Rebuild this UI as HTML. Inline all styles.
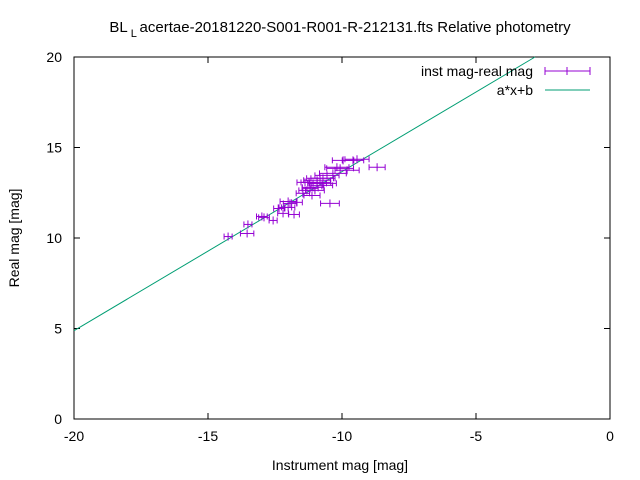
<!DOCTYPE html>
<html><head><meta charset="utf-8"><style>
body{margin:0;background:#fff}
svg{display:block;font-family:"Liberation Sans",sans-serif}
</style></head><body>
<svg id="chart" width="640" height="480" viewBox="0 0 640 480">
<rect width="640" height="480" fill="#fff"/>
<text x="340" y="32" text-anchor="middle" font-size="15" fill="#000">BL<tspan font-size="11" dy="5"> L </tspan><tspan dy="-5">acertae-20181220-S001-R001-R-212131.fts Relative photometry</tspan></text>
<g id="axes"></g>
<g id="marks"></g>
<text x="340" y="470" text-anchor="middle" font-size="14">Instrument mag [mag]</text>
<text transform="translate(19,238) rotate(-90)" text-anchor="middle" font-size="14">Real mag [mag]</text>
<g>
<text x="533" y="76" text-anchor="end" font-size="14">inst mag-real mag</text>
<line x1="545" y1="71" x2="590" y2="71" stroke="#9400d3"/>
<line x1="545" y1="67" x2="545" y2="75" stroke="#9400d3"/>
<line x1="590" y1="67" x2="590" y2="75" stroke="#9400d3"/>
<line x1="567" y1="67" x2="567" y2="75" stroke="#9400d3"/>
<text x="533" y="95" text-anchor="end" font-size="14">a*x+b</text>
<line x1="545" y1="90" x2="590" y2="90" stroke="#009e73"/>
</g>
</svg>
<script>
const xTicks=[-20,-15,-10,-5,0];
const yTicks=[0,5,10,15,20];
const instMag=[-14.25,-13.54,-13.51,-12.99,-12.91,-12.57,-12.20,-11.79,-12.35,-12.13,-12.01,-11.94,-11.68,-12.01,-11.46,-11.31,-11.19,-11.08,-10.93,-10.82,-10.75,-11.01,-11.38,-10.45,-10.71,-10.56,-10.34,-10.19,-10.07,-9.81,-9.96,-9.59,-9.44,-8.69,-10.93,-10.82,-10.71,-11.12,-11.23];
const realMag=[10.08,10.25,10.75,11.19,11.14,10.97,11.36,11.30,11.63,11.69,11.69,11.91,11.97,12.02,12.47,12.63,12.74,12.80,13.02,13.07,12.91,12.63,13.07,11.91,13.30,13.46,13.57,13.91,13.85,13.74,14.29,14.29,14.35,13.91,13.19,13.30,13.02,12.35,13.07];
const xErr=[0.15,0.25,0.15,0.2,0.2,0.15,0.2,0.2,0.2,0.25,0.25,0.25,0.2,0.3,0.25,0.3,0.3,0.4,0.35,0.4,0.4,0.35,0.3,0.35,0.45,0.45,0.5,0.45,0.5,0.45,0.4,0.4,0.45,0.3,0.5,0.5,0.5,0.3,0.3];
const fitA=0.879, fitB=22.46;
const X0=74,X1=610,Y0=419,Y1=57;
const sx=v=>X0+(v+20)/20*(X1-X0);
const sy=v=>Y0-v/20*(Y0-Y1);
const NS='http://www.w3.org/2000/svg';
function mk(tag,attrs,parent){const e=document.createElementNS(NS,tag);for(const k in attrs)e.setAttribute(k,attrs[k]);parent.appendChild(e);return e;}
const axes=document.getElementById('axes'), marks=document.getElementById('marks');
const frame=mk('rect',{x:X0,y:Y1,width:X1-X0,height:Y0-Y1,fill:'none',stroke:'#000'},axes);


xTicks.forEach(t=>{const x=sx(t);
mk('line',{x1:x,y1:Y0,x2:x,y2:Y0-6,stroke:'#000'},axes);mk('line',{x1:x,y1:Y1,x2:x,y2:Y1+6,stroke:'#000'},axes);
const tx=mk('text',{x:x,y:Y0+22,'text-anchor':'middle','font-size':'14'},axes);tx.textContent=t;

});
yTicks.forEach(t=>{const y=sy(t);
mk('line',{x1:X0,y1:y,x2:X0+6,y2:y,stroke:'#000'},axes);mk('line',{x1:X1,y1:y,x2:X1-6,y2:y,stroke:'#000'},axes);
const tx=mk('text',{x:X0-12,y:y+5,'text-anchor':'end','font-size':'14'},axes);tx.textContent=t;

});
const xEnd=(20-fitB)/fitA;
const fit=mk('line',{x1:sx(-20),y1:sy(fitA*-20+fitB),x2:sx(xEnd),y2:sy(20),stroke:'#009e73','stroke-width':1},marks);


instMag.forEach((v,i)=>{const g=mk('g',{stroke:'#9400d3','stroke-width':1},marks);


const x=sx(v),y=sy(realMag[i]),xl=sx(v-xErr[i]),xr=sx(v+xErr[i]);
mk('line',{x1:xl,y1:y,x2:xr,y2:y},g);mk('line',{x1:xl,y1:y-3,x2:xl,y2:y+3},g);mk('line',{x1:xr,y1:y-3,x2:xr,y2:y+3},g);
mk('line',{x1:x,y1:y-4,x2:x,y2:y+4},g);});
</script>
</body></html>
